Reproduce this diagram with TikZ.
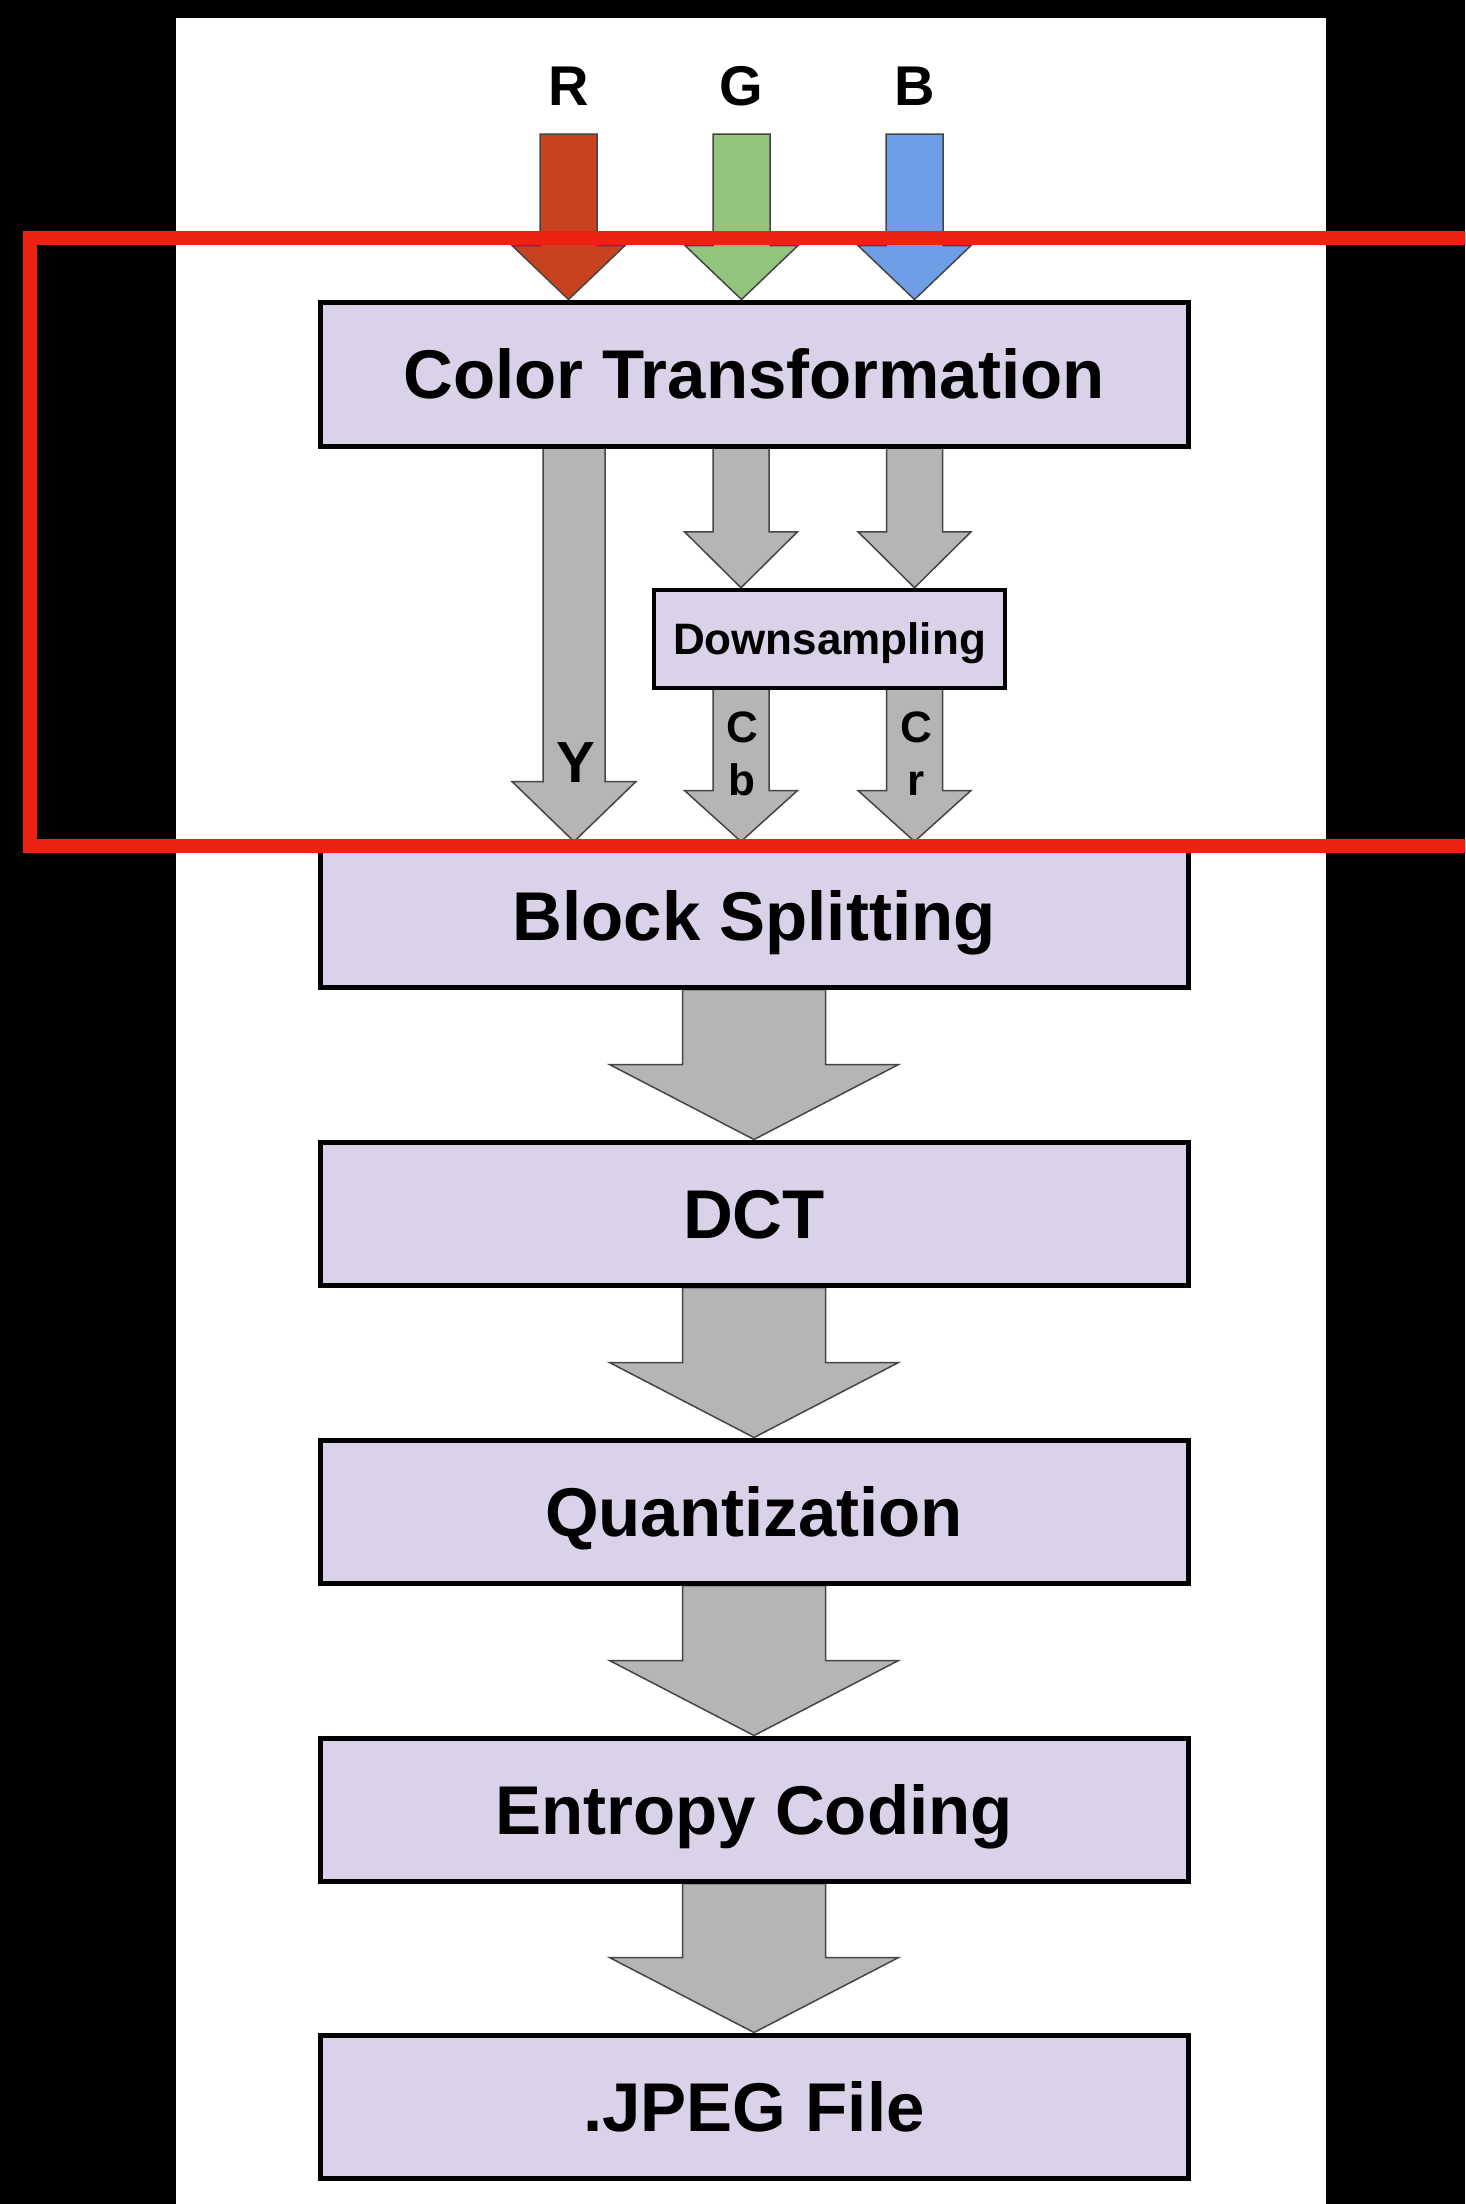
\documentclass[tikz,border=0pt]{standalone}
\usepackage{fontspec}
\setmainfont{Liberation Sans}
\usetikzlibrary{calc}
\definecolor{lav}{HTML}{D9D2E9}
\definecolor{arrgray}{HTML}{B5B5B5}
\definecolor{rfill}{HTML}{C8421F}
\definecolor{gfill}{HTML}{93C47D}
\definecolor{bfill}{HTML}{6D9EE6}
\definecolor{overlayred}{HTML}{EE2211}
\definecolor{outl}{HTML}{454545}
\pgfdeclarelayer{back}
\pgfdeclarelayer{bg}
\pgfdeclarelayer{front}
\pgfsetlayers{back,bg,main,front}
\tikzset{
  stagebox/.style={draw=black, line width=5pt, fill=lav, minimum width=868pt, minimum height=143pt,
    inner sep=0pt, text height=49.4pt, text depth=0pt, font=\bfseries\fontsize{69}{80}\selectfont},
  smallbox/.style={draw=black, line width=4.5pt, fill=lav, minimum width=351pt, minimum height=98pt,
    inner sep=0pt, text height=31.5pt, text depth=0pt, font=\bfseries\fontsize{44}{50}\selectfont},
  chanlabel/.style={inner sep=0pt, font=\bfseries\fontsize{56}{60}\selectfont},
  sublabel/.style={inner sep=0pt, anchor=base, font=\bfseries\fontsize{44}{50}\selectfont},
  arrowline/.style={draw=outl, line width=1.5pt, line join=miter},
}
\newcommand{\blockarrow}[6]{%
  \filldraw[arrowline, fill=#6]
    ($(#1)+(-#3,0)$) -- ($(#2)+(-#3,-#5)$) -- ($(#2)+(-#4,-#5)$) -- (#2)
    -- ($(#2)+(#4,-#5)$) -- ($(#2)+(#3,-#5)$) -- ($(#1)+(#3,0)$) -- cycle;}
\begin{document}
\begin{tikzpicture}[x=1pt, y=-1pt]
\useasboundingbox (0,0) rectangle (1465,2204);
\begin{pgfonlayer}{back}
  \fill[black] (0,0) rectangle (1465,2204);
  \fill[white] (176,18) rectangle (1326,2204);
\end{pgfonlayer}

% stage boxes
\node[stagebox, minimum height=144pt] (ct) at (754,374) {Color Transformation};
\node[smallbox] (ds) at (829.5,639) {Downsampling};
\node[stagebox] (bs) at (754,915.5) {Block Splitting};
\node[stagebox] (dct) at (754,1213.5) {DCT};
\node[stagebox] (qz) at (754,1511.5) {Quantization};
\node[stagebox] (ec) at (754,1809.5) {Entropy Coding};
\node[stagebox] (jf) at (754,2106.5) {.JPEG File};

% channel labels
\node[chanlabel] (lr) at (568.5,86) {R};
\node[chanlabel] (lg) at (741.5,86) {G};
\node[chanlabel] (lb) at (914.5,86) {B};

% arrow endpoints
\coordinate (rs) at (568.5,134);
\coordinate (gs) at (741.5,134);
\coordinate (bs0) at (914.5,134);
\coordinate (ys) at (574,446);
\coordinate (cbs) at (741,446);
\coordinate (crs) at (914.5,446);
\coordinate (cbs2) at (741,688);
\coordinate (crs2) at (914.5,688);

\begin{pgfonlayer}{bg}
  \blockarrow{rs}{rs |- ct.north}{28.5}{56.5}{54}{rfill}
  \blockarrow{gs}{gs |- ct.north}{28.5}{56.5}{54}{gfill}
  \blockarrow{bs0}{bs0 |- ct.north}{28.5}{56.5}{54}{bfill}
  \blockarrow{ys}{ys |- bs.north}{31}{62}{60}{arrgray}
  \blockarrow{cbs}{cbs |- ds.north}{28}{56.5}{56}{arrgray}
  \blockarrow{crs}{crs |- ds.north}{28}{56.5}{56}{arrgray}
  \blockarrow{cbs2}{cbs2 |- bs.north}{28}{56.5}{51}{arrgray}
  \blockarrow{crs2}{crs2 |- bs.north}{28}{56.5}{51}{arrgray}
  \blockarrow{bs.south}{dct.north}{71.5}{144.5}{75}{arrgray}
  \blockarrow{dct.south}{qz.north}{71.5}{144.5}{75}{arrgray}
  \blockarrow{qz.south}{ec.north}{71.5}{144.5}{75}{arrgray}
  \blockarrow{ec.south}{jf.north}{71.5}{144.5}{75}{arrgray}
\end{pgfonlayer}

% arrow labels
\node[sublabel, font=\bfseries\fontsize{58}{60}\selectfont] (ly) at (576,782) {Y};
\node[sublabel] (lc1) at (742,742) {C};
\node[sublabel] (lbb) at (742,795) {b};
\node[sublabel] (lc2) at (916,742) {C};
\node[sublabel] (lrr) at (916,795) {r};

% red overlay frame
\begin{pgfonlayer}{front}
  \clip (0,0) rectangle (1465,2204);
  \draw[overlayred, line width=14pt] (30,238) rectangle (1520,846);
\end{pgfonlayer}
\end{tikzpicture}
\end{document}
